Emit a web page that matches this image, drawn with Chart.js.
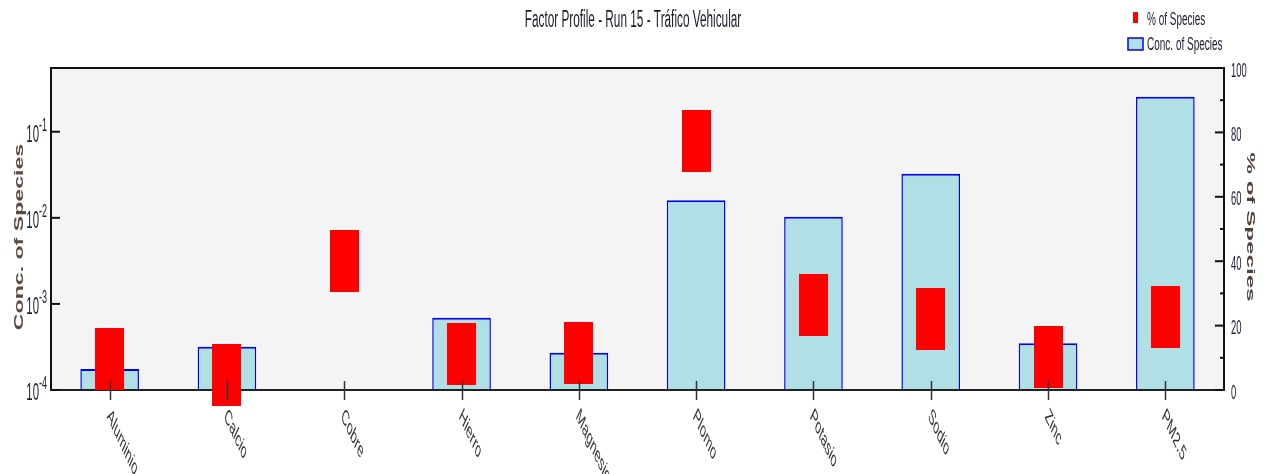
<!DOCTYPE html>
<html>
<head>
<meta charset="utf-8">
<title>Factor Profile - Run 15 - Tráfico Vehicular</title>
<script src="https://cdn.jsdelivr.net/npm/chart.js@4.4.1/dist/chart.umd.min.js"></script>
<style>
  html, body { margin: 0; padding: 0; background: #ffffff; }
  canvas { display: block; }
</style>
</head>
<body>
<canvas id="profile" width="1266" height="474"></canvas>
<script>
// Species of the factor profile
const species = ['Aluminio', 'Calcio', 'Cobre', 'Hierro', 'Magnesio', 'Plomo', 'Potasio', 'Sodio', 'Zinc', 'PM2.5'];
// Concentration of species in the factor (log axis, left)
const concOfSpecies = [1.75e-4, 3.18e-4, null, 6.9e-4, 2.71e-4, 0.0160, 0.0103, 0.0325, 3.5e-4, 0.255];
// Percentage of each species apportioned to the factor (linear axis, right)
const pctOfSpecies = [9.7, 4.7, 40.0, 11.1, 11.6, 77.2, 26.5, 22.0, 10.4, 22.6];
// Axis ticks
const concTicks = [1e-4, 1e-3, 1e-2, 1e-1];
const concTickExponents = ['-4', '-3', '-2', '-1'];
const pctTicks = [0, 20, 40, 60, 80, 100];
const pctMinorTicks = [10, 30, 50, 70, 90];

const FONT = '"Liberation Sans", Arial, sans-serif';

// Text drawn with a tall, condensed look: scale (sx, sy) applied around the anchor, then rotation
function drawText(ctx, text, x, y, o) {
  ctx.save();
  ctx.translate(x, y);
  ctx.scale(o.sx || 1, o.sy || 1);
  if (o.rot) ctx.rotate(o.rot);
  ctx.font = (o.weight || 'normal') + ' ' + o.size + 'px ' + FONT;
  ctx.fillStyle = o.color || '#222';
  ctx.textAlign = o.align || 'left';
  ctx.textBaseline = o.baseline || 'alphabetic';
  ctx.fillText(text, 0, 0);
  ctx.restore();
}

// Red rectangular marker for "% of Species"
const pctMarker = document.createElement('canvas');
pctMarker.width = 29;
pctMarker.height = 62;
(function () {
  const m = pctMarker.getContext('2d');
  m.fillStyle = '#ff0000';
  m.fillRect(0, 0, 29, 62);
})();

const framePlugin = {
  id: 'framePlugin',
  beforeDraw(chart) {
    const { ctx, chartArea: a } = chart;
    ctx.save();
    ctx.fillStyle = '#f4f4f4';
    ctx.fillRect(a.left, a.top, a.right - a.left, a.bottom - a.top);
    ctx.restore();
  },
  beforeDatasetsDraw(chart) {
    const { ctx, chartArea: a } = chart;
    ctx.save();
    ctx.strokeStyle = '#111111';
    ctx.lineWidth = 2;
    ctx.strokeRect(a.left, a.top, a.right - a.left, a.bottom - a.top);
    ctx.restore();
  },
  afterDatasetDraw(chart, args) {
    if (args.meta.type !== 'bar') return;
    // bottom axis line over the bar bases
    const { ctx, chartArea: a } = chart;
    ctx.save();
    ctx.strokeStyle = '#222222';
    ctx.lineWidth = 2;
    ctx.beginPath();
    ctx.moveTo(a.left - 1, a.bottom);
    ctx.lineTo(a.right + 1, a.bottom);
    ctx.stroke();
    ctx.restore();
  },
  afterDraw(chart) {
    const { ctx, chartArea: a } = chart;
    const xs = chart.scales.x, ys = chart.scales.y, ps = chart.scales.y2;
    ctx.save();

    // category ticks and rotated labels
    ctx.strokeStyle = '#333333';
    ctx.lineWidth = 1.5;
    species.forEach((name, i) => {
      const px = Math.round(xs.getPixelForValue(i)) + 0.5;
      ctx.beginPath();
      ctx.moveTo(px, a.bottom - 9);
      ctx.lineTo(px, a.bottom + 10);
      ctx.stroke();
      drawText(ctx, name, px - 2, a.bottom + 23, {
        size: 10.2, sy: 2.15, rot: Math.PI / 4, color: '#333333', baseline: 'middle'
      });
    });

    // left log axis ticks and labels
    ctx.strokeStyle = '#111111';
    ctx.lineWidth = 2;
    concTicks.forEach((v, i) => {
      const py = ys.getPixelForValue(v);
      ctx.beginPath();
      ctx.moveTo(a.left, py);
      ctx.lineTo(a.left + 9, py);
      ctx.stroke();
      drawText(ctx, '10', 39, py + 10, { size: 11.4, sy: 2.1, align: 'right', color: '#1c1c38' });
      drawText(ctx, concTickExponents[i], 39, py - 1, { size: 9, sy: 2.0, color: '#1c1c38' });
    });

    // right linear axis ticks and labels
    pctTicks.forEach(v => {
      const py = ps.getPixelForValue(v);
      ctx.beginPath();
      ctx.moveTo(a.right - 9, py);
      ctx.lineTo(a.right, py);
      ctx.stroke();
      drawText(ctx, String(v), a.right + 7, py + 8.5, { size: 9.4, sy: 2.1, color: '#1c1c38' });
    });
    pctMinorTicks.forEach(v => {
      const py = ps.getPixelForValue(v);
      ctx.beginPath();
      ctx.moveTo(a.right - 4, py);
      ctx.lineTo(a.right, py);
      ctx.stroke();
    });

    // axis titles
    drawText(ctx, 'Conc. of Species', 23, (a.top + a.bottom) / 2 + 8, {
      size: 12.5, sy: 1.85, rot: -Math.PI / 2, align: 'center', baseline: 'alphabetic',
      weight: 'bold', color: '#5a4b42'
    });
    drawText(ctx, '% of Species', 1247, (a.top + a.bottom) / 2 - 2, {
      size: 10.5, sy: 2.3, rot: Math.PI / 2, align: 'center', baseline: 'alphabetic',
      weight: 'bold', color: '#4f4239'
    });

    // title
    drawText(ctx, 'Factor Profile - Run 15 - Tráfico Vehicular', 633, 27, {
      size: 11.8, sy: 1.95, align: 'center', color: '#1a1a2e'
    });

    // legend
    ctx.fillStyle = '#ff0000';
    ctx.fillRect(1133, 12, 5, 11);
    drawText(ctx, '% of Species', 1147, 24.5, { size: 10, sy: 1.85, color: '#1a1a2e' });
    ctx.fillStyle = '#b0e0e6';
    ctx.fillRect(1128, 38, 15, 12);
    ctx.strokeStyle = '#0000ff';
    ctx.lineWidth = 1.5;
    ctx.strokeRect(1128, 38, 15, 12);
    drawText(ctx, 'Conc. of Species', 1147, 50, { size: 10, sy: 1.85, color: '#1a1a2e' });

    ctx.restore();
  }
};

new Chart(document.getElementById('profile'), {
  type: 'bar',
  data: {
    labels: species,
    datasets: [
      {
        type: 'line',
        label: '% of Species',
        data: pctOfSpecies,
        yAxisID: 'y2',
        showLine: false,
        pointStyle: pctMarker,
        pointRadius: 3,
        pointHoverRadius: 3,
        clip: false,
        order: 0
      },
      {
        type: 'bar',
        label: 'Conc. of Species',
        data: concOfSpecies,
        yAxisID: 'y',
        backgroundColor: '#b0e0e6',
        borderColor: '#0000ff',
        borderWidth: { top: 2, left: 1.5, right: 1.5, bottom: 0 },
        borderSkipped: false,
        barPercentage: 0.5,
        categoryPercentage: 1.0,
        order: 1
      }
    ]
  },
  options: {
    responsive: false,
    animation: false,
    devicePixelRatio: 1,
    events: [],
    layout: { padding: { left: 51, top: 68, right: 42, bottom: 84 } },
    plugins: { legend: { display: false }, tooltip: { enabled: false }, title: { display: false } },
    scales: {
      x: { display: false, offset: true },
      y: { type: 'logarithmic', display: false, position: 'left', min: 1e-4, max: 0.55 },
      y2: { type: 'linear', display: false, position: 'right', min: 0, max: 100 }
    }
  },
  plugins: [framePlugin]
});
</script>
</body>
</html>
